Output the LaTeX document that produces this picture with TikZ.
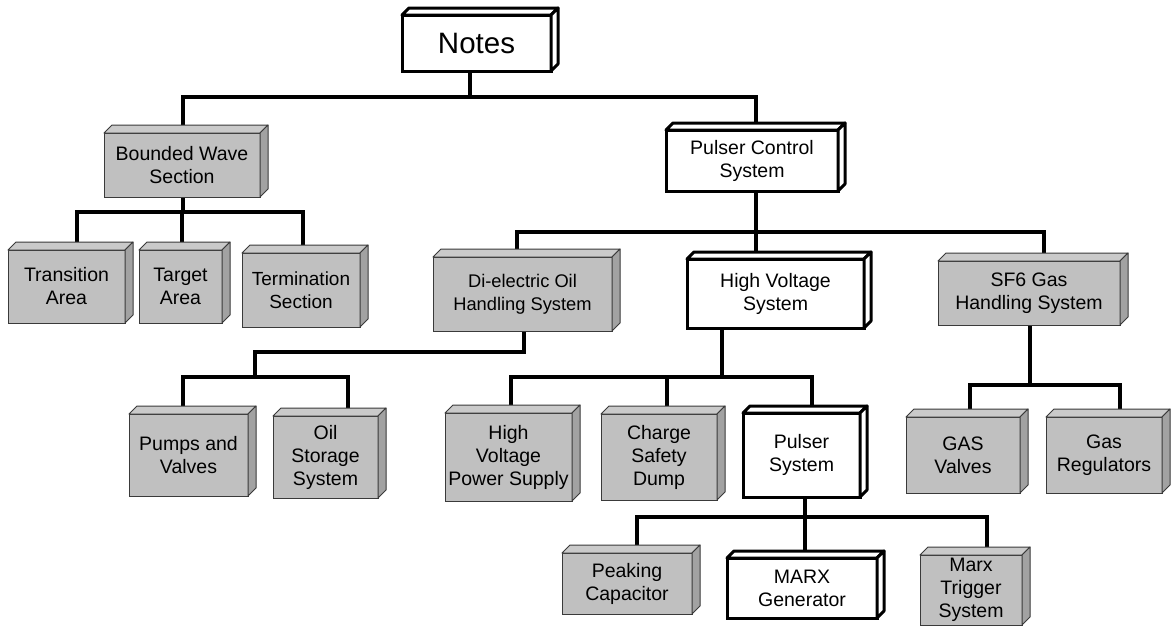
\documentclass[tikz,border=0pt]{standalone}
\usepackage{fontspec}
\setmainfont{Liberation Sans}
\pgfdeclarelayer{bg}
\pgfsetlayers{bg,main}
\definecolor{boxgray}{HTML}{C0C0C0}
\definecolor{topgray}{HTML}{CACACA}
\definecolor{sidegray}{HTML}{A2A2A2}
\definecolor{edgegray}{HTML}{3A3A3A}
\tikzset{
  lbl/.style={font=\fontsize{19.5}{23}\selectfont, align=center, inner sep=0pt, outer sep=0pt},
  graybox/.style={lbl, rectangle, fill=boxgray, draw=edgegray, line width=1pt},
  whitebox/.style={lbl, rectangle, fill=white, draw=black, line width=3pt},
  graytop/.style={fill=topgray, draw=edgegray, line width=1pt, line join=round},
  grayside/.style={fill=sidegray, draw=edgegray, line width=1pt, line join=round},
  whiteface/.style={fill=white, draw=black, line width=3pt, line join=round},
  conn/.style={draw=black, line width=3.3pt, line join=miter}
}
% place a box by its front-face corners: name, x1, y1, x2, y2, style, text
\newcommand\frontbox[7]{%
  \node[#6, minimum width={(#4-#2)*1pt}, minimum height={(#5-#3)*1pt}]
    (#1) at ({(#2+#4)/2},{(#3+#5)/2}) {#7};}
\begin{document}
\begin{tikzpicture}[x=1pt,y=-1pt]
\useasboundingbox (0,0) rectangle (1175,630);

% front faces
\frontbox{notes}{402}{15}{551}{71}{whitebox,font=\fontsize{29.5}{32}\selectfont}{Notes}
\frontbox{bws}{104}{133}{260}{197}{graybox}{Bounded Wave\\Section}
\frontbox{trans}{8}{250}{125}{323}{graybox}{Transition\\Area}
\frontbox{targ}{139}{250}{222}{323}{graybox}{Target\\Area}
\frontbox{term}{242}{253}{360}{327}{graybox,font=\fontsize{19}{23}\selectfont}{Termination\\Section}
\frontbox{pcs}{666}{130}{838}{191}{whitebox}{Pulser Control\\System}
\frontbox{deo}{433}{257}{612}{331}{graybox,font=\fontsize{18.3}{23}\selectfont}{Di-electric Oil\\Handling System}
\frontbox{hvs}{687}{259}{864}{328}{whitebox}{High Voltage\\System}
\frontbox{sf6}{938}{261}{1120}{325}{graybox}{SF6 Gas\\Handling System}
\frontbox{pump}{129}{414}{248}{496}{graybox}{Pumps and\\Valves}
\frontbox{oil}{273}{416}{378}{498}{graybox}{Oil\\Storage\\System}
\frontbox{hvps}{445}{413}{572}{501}{graybox}{High\\Voltage\\Power Supply}
\frontbox{csd}{601}{414}{717}{500}{graybox}{Charge\\Safety\\Dump}
\frontbox{ps}{743}{413}{860}{497}{whitebox}{Pulser\\System}
\frontbox{gasv}{906}{417}{1020}{493}{graybox}{GAS\\Valves}
\frontbox{gasr}{1046}{417}{1162}{493}{graybox}{Gas\\Regulators}
\frontbox{peak}{562}{553}{692}{614}{graybox}{Peaking\\Capacitor}
\frontbox{marx}{727}{558}{877}{618}{whitebox}{MARX\\Generator}
\frontbox{trig}{920}{555}{1022}{625}{graybox}{Marx\\Trigger\\System}

% top and side faces
\foreach \n in {bws,trans,targ,term,deo,sf6,pump,oil,hvps,csd,gasv,gasr,peak,trig}{
  \path[graytop] (\n.north west) -- ++(8,-8) -- ([shift={(8,-8)}]\n.north east) -- (\n.north east) -- cycle;
  \path[grayside] (\n.north east) -- ++(8,-8) -- ([shift={(8,-8)}]\n.south east) -- (\n.south east) -- cycle;
}
\foreach \n in {notes,pcs,hvs,ps,marx}{
  \path[whiteface] (\n.north west) -- ++(7,-7) -- ([shift={(7,-7)}]\n.north east) -- (\n.north east) -- cycle;
  \path[whiteface] (\n.north east) -- ++(7,-7) -- ([shift={(7,-7)}]\n.south east) -- (\n.south east) -- cycle;
}

% tap points of the connectors
\coordinate (n0) at (470,97);
\coordinate (n1) at (183,97);
\coordinate (n2) at (756,97);
\coordinate (b0) at (183,212);
\coordinate (b1) at (77,212);
\coordinate (b2) at (303,212);
\coordinate (b3) at (182,212);
\coordinate (p0) at (756,232);
\coordinate (p1) at (517,232);
\coordinate (p2) at (1044,232);
\coordinate (d0) at (524,352);
\coordinate (d1) at (255,352);
\coordinate (d2) at (255,377);
\coordinate (d3) at (183,377);
\coordinate (d4) at (348,377);
\coordinate (h0) at (722,377);
\coordinate (h1) at (511,377);
\coordinate (h2) at (812,377);
\coordinate (h3) at (667,377);
\coordinate (s0) at (805,517);
\coordinate (s1) at (637,517);
\coordinate (s2) at (987,517);
\coordinate (g0) at (1030,385);
\coordinate (g1) at (970,385);
\coordinate (g2) at (1120,385);

\begin{pgfonlayer}{bg}
  % Notes
  \draw[conn] (n0 |- notes.south) -- (n0);
  \draw[conn] (n1 |- bws.north) |- (n2) -- (n2 |- pcs.north);
  % Bounded Wave Section
  \draw[conn] (b0 |- bws.south) -- (b0);
  \draw[conn] (b1 |- trans.north) |- (b2) -- (b2 |- term.north);
  \draw[conn] (b3 |- targ.north) -- (b3);
  % Pulser Control System
  \draw[conn] (p0 |- pcs.south) -- (p0 |- hvs.north);
  \draw[conn] (p1 |- deo.north) |- (p2) -- (p2 |- sf6.north);
  % Di-electric Oil Handling System
  \draw[conn] (d0 |- deo.south) -- (d0) -- (d1) -- (d2);
  \draw[conn] (d3 |- pump.north) |- (d4) -- (d4 |- oil.north);
  % High Voltage System
  \draw[conn] (h0 |- hvs.south) -- (h0);
  \draw[conn] (h1 |- hvps.north) |- (h2) -- (h2 |- ps.north);
  \draw[conn] (h3 |- csd.north) -- (h3);
  % Pulser System
  \draw[conn] (s0 |- ps.south) -- (s0 |- marx.north);
  \draw[conn] (s1 |- peak.north) |- (s2) -- (s2 |- trig.north);
  % SF6 Gas Handling System
  \draw[conn] (g0 |- sf6.south) -- (g0);
  \draw[conn] (g1 |- gasv.north) |- (g2) -- (g2 |- gasr.north);
\end{pgfonlayer}
\end{tikzpicture}
\end{document}
